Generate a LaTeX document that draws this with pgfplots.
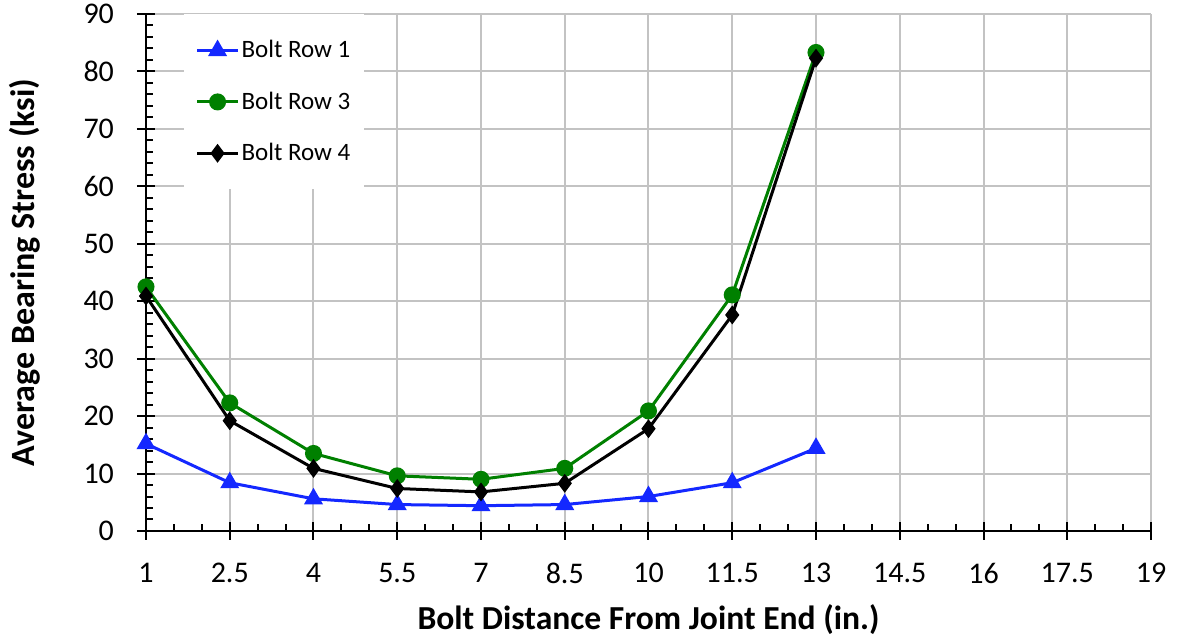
\documentclass[border=0pt]{standalone}
\usepackage{pgfplots}
\pgfplotsset{compat=1.18}
\usepackage{fontspec}
\setmainfont{Carlito}
\definecolor{rowblue}{RGB}{20,40,255}
\definecolor{rowgreen}{RGB}{0,128,0}
\definecolor{gridgray}{RGB}{195,195,195}
\begin{document}
\begin{tikzpicture}
\begin{axis}[
  name=ax,
  scale only axis,
  width=502.5pt, height=258.5pt,
  xmin=1, xmax=19, ymin=0, ymax=90,
  xtick={1,2.5,...,19},
  xticklabels={1,2.5,4,5.5,7,8.5,10,11.5,13,14.5,16,17.5,19},
  ytick={0,10,...,90},
  minor x tick num=2,
  minor y tick num=4,
  axis lines*=left,
  axis line style={line width=1pt, black},
  grid=major,
  major grid style={gridgray, line width=1pt},
  tick align=inside,
  major tick length=4.5pt,
  minor tick length=3.5pt,
  tick style={black, line width=1pt},
  extra x ticks={1,2.5,...,19},
  extra x tick labels={},
  extra y ticks={0,10,...,90},
  extra y tick labels={},
  extra tick style={tick align=outside, major tick length=4.5pt, grid=none},
  ticklabel style={font=\fontsize{15}{17}\selectfont},
  /pgf/number format/assume math mode=true,
  xticklabel style={yshift=-12.5pt},
  yticklabel style={xshift=-12.5pt},
  xlabel={\textbf{Bolt Distance From Joint End (in.)}},
  ylabel={\textbf{Average Bearing Stress (ksi)}},
  x label style={font=\fontsize{16.8}{19}\selectfont, at={(axis description cs:0.5,-0.172)}, anchor=center},
  y label style={font=\fontsize{17}{19}\selectfont, at={(axis description cs:-0.1204,0.5)}, anchor=center, rotate=0},
  legend cell align=left,
  legend style={at={(axis description cs:0.037,1)}, anchor=north west,
    draw=none, fill=white, font=\fontsize{12.5}{15}\selectfont,
    inner xsep=6pt, inner ysep=11pt, row sep=11.5pt,
    nodes={inner xsep=1pt}},
  legend image code/.code={\draw[mark repeat=2,mark phase=2] plot coordinates {(0cm,0cm) (0.36cm,0cm) (0.72cm,0cm)};},
  clip=false,
]
\addplot[rowblue, line width=1.5pt, mark=triangle*, mark size=4pt, mark options={solid}] coordinates {
(1,15.2) (2.5,8.4) (4,5.6) (5.5,4.6) (7,4.4) (8.5,4.6) (10,6.0) (11.5,8.4) (13,14.4)};
\addlegendentry{Bolt Row 1}
\addplot[rowgreen, line width=1.5pt, mark=*, mark size=3.5pt] coordinates {
(1,42.5) (2.5,22.3) (4,13.5) (5.5,9.6) (7,9.0) (8.5,10.9) (10,20.9) (11.5,41.1) (13,83.3)};
\addlegendentry{Bolt Row 3}
\addplot[black, line width=1.5pt, mark=diamond*, mark size=3.5pt] coordinates {
(1,40.9) (2.5,19.2) (4,10.9) (5.5,7.4) (7,6.8) (8.5,8.3) (10,17.8) (11.5,37.6) (13,82.3)};
\addlegendentry{Bolt Row 4}
\end{axis}
\pgfresetboundingbox
\path[use as bounding box] ([shift={(-73pt,-56.5pt)}]ax.south west) rectangle ([shift={(14pt,7pt)}]ax.north east);
\end{tikzpicture}
\end{document}
